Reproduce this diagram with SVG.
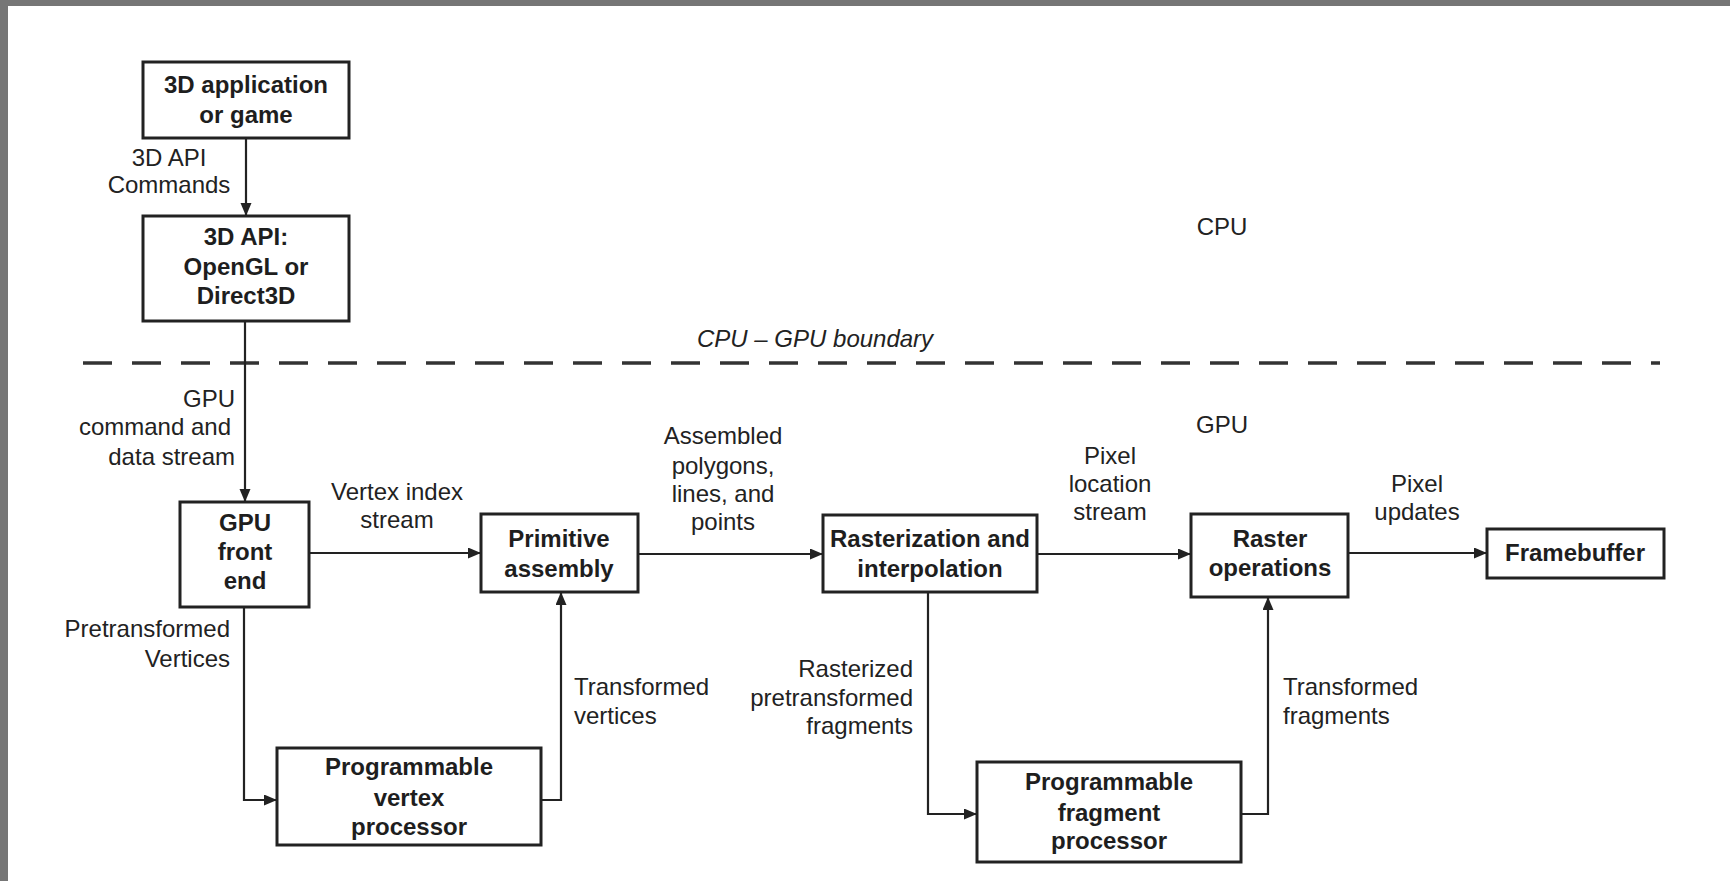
<svg xmlns="http://www.w3.org/2000/svg" width="1730" height="881" viewBox="0 0 1730 881">
<defs>
<style>
.box{fill:#fff;stroke:#222;stroke-width:3}
.b{font-family:"Liberation Sans",Arial,sans-serif;font-size:24px;font-weight:bold;fill:#1e1e1e;text-anchor:middle}
.t{font-family:"Liberation Sans",Arial,sans-serif;font-size:24px;fill:#222}
.c{text-anchor:middle}
.e{text-anchor:end}
.conn{fill:none;stroke:#222;stroke-width:2.2}
</style>
<marker id="ah" markerUnits="userSpaceOnUse" markerWidth="14" markerHeight="12" refX="13" refY="5.5" orient="auto">
<path d="M0,0 L13,5.5 L0,11 z" fill="#222"/>
</marker>
</defs>
<rect x="0" y="0" width="1730" height="881" fill="#fff"/>
<rect x="0" y="0" width="1730" height="6" fill="#767676"/>
<rect x="0" y="0" width="8" height="881" fill="#767676"/>

<g id="boundary">
<line x1="83" y1="363" x2="1660" y2="363" stroke="#333" stroke-width="3.5" stroke-dasharray="29 20"/>
<text class="t" x="697" y="347" font-style="italic">CPU – GPU boundary</text>
<text class="t c" x="1222" y="235">CPU</text>
<text class="t c" x="1222" y="433">GPU</text>
</g>

<g id="connectors">
<line class="conn" x1="246" y1="138" x2="246" y2="216" marker-end="url(#ah)"/>
<line class="conn" x1="245" y1="321" x2="245" y2="502" marker-end="url(#ah)"/>
<line class="conn" x1="309" y1="553" x2="481" y2="553" marker-end="url(#ah)"/>
<line class="conn" x1="638" y1="554" x2="823" y2="554" marker-end="url(#ah)"/>
<line class="conn" x1="1037" y1="554" x2="1191" y2="554" marker-end="url(#ah)"/>
<line class="conn" x1="1348" y1="553" x2="1487" y2="553" marker-end="url(#ah)"/>
<path class="conn" d="M244 607 V800 H277" marker-end="url(#ah)"/>
<path class="conn" d="M541 800 H561 V592" marker-end="url(#ah)"/>
<path class="conn" d="M928 592 V814 H977" marker-end="url(#ah)"/>
<path class="conn" d="M1241 814 H1268 V597" marker-end="url(#ah)"/>
<text class="t c" x="169" y="166">3D API</text>
<text class="t c" x="169" y="193">Commands</text>
<text class="t e" x="235" y="407">GPU</text>
<text class="t e" x="231" y="435">command and</text>
<text class="t e" x="235" y="465">data stream</text>
<text class="t c" x="397" y="500">Vertex index</text>
<text class="t c" x="397" y="528">stream</text>
<text class="t c" x="723" y="444">Assembled</text>
<text class="t c" x="723" y="474">polygons,</text>
<text class="t c" x="723" y="502">lines, and</text>
<text class="t c" x="723" y="530">points</text>
<text class="t c" x="1110" y="464">Pixel</text>
<text class="t c" x="1110" y="492">location</text>
<text class="t c" x="1110" y="520">stream</text>
<text class="t c" x="1417" y="492">Pixel</text>
<text class="t c" x="1417" y="520">updates</text>
<text class="t e" x="230" y="637">Pretransformed</text>
<text class="t e" x="230" y="667">Vertices</text>
<text class="t" x="574" y="695">Transformed</text>
<text class="t" x="574" y="724">vertices</text>
<text class="t e" x="913" y="677">Rasterized</text>
<text class="t e" x="913" y="706">pretransformed</text>
<text class="t e" x="913" y="734">fragments</text>
<text class="t" x="1283" y="695">Transformed</text>
<text class="t" x="1283" y="724">fragments</text>
</g>

<g id="app">
<rect class="box" x="143" y="62" width="206" height="76"/>
<text class="b" x="246" y="93">3D application</text>
<text class="b" x="246" y="123">or game</text>
</g>
<g id="api">
<rect class="box" x="143" y="216" width="206" height="105"/>
<text class="b" x="246" y="245">3D API:</text>
<text class="b" x="246" y="275">OpenGL or</text>
<text class="b" x="246" y="304">Direct3D</text>
</g>
<g id="frontend">
<rect class="box" x="180" y="502" width="129" height="105"/>
<text class="b" x="245" y="531">GPU</text>
<text class="b" x="245" y="560">front</text>
<text class="b" x="245" y="589">end</text>
</g>
<g id="primitive">
<rect class="box" x="481" y="514" width="157" height="78"/>
<text class="b" x="559" y="547">Primitive</text>
<text class="b" x="559" y="577">assembly</text>
</g>
<g id="raster">
<rect class="box" x="823" y="515" width="214" height="77"/>
<text class="b" x="930" y="547">Rasterization and</text>
<text class="b" x="930" y="577">interpolation</text>
</g>
<g id="rop">
<rect class="box" x="1191" y="514" width="157" height="83"/>
<text class="b" x="1270" y="547">Raster</text>
<text class="b" x="1270" y="576">operations</text>
</g>
<g id="framebuffer">
<rect class="box" x="1487" y="529" width="177" height="49"/>
<text class="b" x="1575" y="561">Framebuffer</text>
</g>
<g id="vertexproc">
<rect class="box" x="277" y="748" width="264" height="97"/>
<text class="b" x="409" y="775">Programmable</text>
<text class="b" x="409" y="806">vertex</text>
<text class="b" x="409" y="835">processor</text>
</g>
<g id="fragproc">
<rect class="box" x="977" y="762" width="264" height="100"/>
<text class="b" x="1109" y="790">Programmable</text>
<text class="b" x="1109" y="821">fragment</text>
<text class="b" x="1109" y="849">processor</text>
</g>
</svg>
